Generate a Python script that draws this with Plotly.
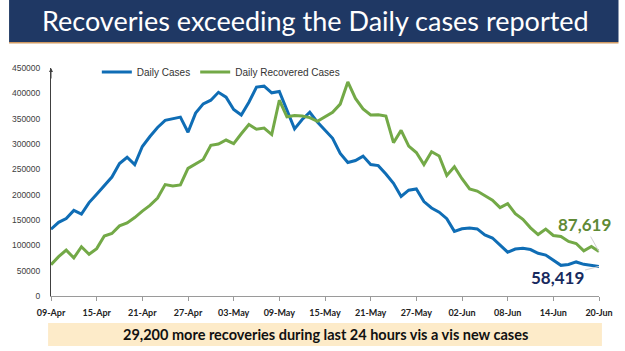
import pandas as pd
import plotly.graph_objects as go

dates = pd.date_range("2021-04-09", "2021-06-20", freq="D")

daily_cases = [
    131968, 145384, 152879, 168912, 161736, 184372, 200739, 217353, 234692, 261500,
    273810, 259170, 295041, 314835, 332730, 346786, 349691, 352991, 323144, 360960,
    379257, 386452, 401993, 392488, 368147, 357229, 382315, 412262, 414188, 401078,
    403738, 366161, 329942, 348421, 362727, 343144, 326098, 311170, 281386, 263533,
    267334, 276110, 259551, 257299, 240842, 222315, 196427, 208921, 211298, 186364,
    173790, 165553, 152734, 127510, 132788, 134154, 132364, 120529, 114460, 100636,
    86498, 92596, 94052, 91702, 84332, 80834, 70421, 60471, 62224, 67208,
    62480, 60753, 58419,
]

daily_recovered = [
    61899, 77567, 90584, 75086, 97168, 82339, 93528, 118302, 123354, 138423,
    144178, 154761, 167457, 178841, 193279, 219838, 217113, 219272, 251827, 261162,
    269507, 297540, 299988, 307865, 300732, 320289, 338439, 329113, 331507, 318609,
    386444, 353818, 356082, 355338, 352181, 344776, 353299, 362437, 378741, 422436,
    389851, 369077, 357295, 357630, 355102, 302544, 326850, 295955, 283135, 259459,
    284601, 276309, 238022, 255287, 231456, 211499, 207071, 197894, 189232, 174399,
    182282, 162664, 151367, 134580, 121311, 132062, 119501, 117525, 107628, 103570,
    88977, 97743, 87619,
]

y_ticks = [0, 50000, 100000, 150000, 200000, 250000, 300000, 350000, 400000, 450000]
x_ticks = list(dates[::6])

title_text = "Recoveries exceeding the Daily cases reported"
footer_text = "29,200 more recoveries during last 24 hours vis a vis new cases"

BLUE = "#0f6db5"
GREEN = "#73a947"

fig = go.Figure()
fig.add_trace(go.Scatter(x=dates, y=daily_cases, mode="lines", name="Daily Cases",
                         line=dict(color=BLUE, width=3)))
fig.add_trace(go.Scatter(x=dates, y=daily_recovered, mode="lines", name="Daily Recovered Cases",
                         line=dict(color=GREEN, width=3)))

# plot area: x 43..605 px, y 68..296 px
L, R, T, B = 43, 20, 68, 55
W, H = 625, 351
pw, ph = W - L - R, H - T - B

def px(xp):
    return (xp - L) / pw

def py(yp):
    return (H - B - yp) / ph

shapes = [
    dict(type="rect", xref="paper", yref="paper", x0=px(0), x1=px(W), y0=py(42), y1=py(0),
         fillcolor="#1f3864", line=dict(width=0), layer="below"),
    dict(type="rect", xref="paper", yref="paper", x0=px(0), x1=px(W), y0=py(43.5), y1=py(42),
         fillcolor="#d09a62", line=dict(width=0), layer="below"),
    dict(type="rect", xref="paper", yref="paper", x0=px(40), x1=px(608), y0=py(346), y1=py(323),
         fillcolor="#fdebc9", line=dict(width=0), layer="below"),
]

annotations = [
    dict(text=title_text, xref="paper", yref="paper", x=px(314), y=py(21), showarrow=False,
         font=dict(family="Lato", size=27, color="white"), xanchor="center", yanchor="middle"),
    dict(text="<b>" + footer_text + "</b>", xref="paper", yref="paper", x=px(324), y=py(334.5),
         showarrow=False, font=dict(family="Lato", size=14.5, color="#111111"),
         xanchor="center", yanchor="middle"),
    dict(text="<b>87,619</b>", x=dates[-1], y=daily_recovered[-1], xref="x", yref="y",
         ax=-15, ay=-27, showarrow=True, arrowhead=0, arrowwidth=1, arrowcolor="#d0d0d0",
         font=dict(family="Lato", size=17, color="#5f8a36")),
    dict(text="<b>58,419</b>", x=dates[-1], y=daily_cases[-1], xref="x", yref="y",
         ax=-42, ay=11, showarrow=True, arrowhead=0, arrowwidth=1, arrowcolor="#d0d0d0",
         font=dict(family="Lato", size=17, color="#172a5e")),
    # arrow tip on y axis
    dict(text="", x=dates[0], y=y_ticks[-1], xref="x", yref="y", ax=0, ay=12,
         showarrow=True, arrowhead=2, arrowsize=0.8, arrowwidth=1, arrowcolor="#404040"),
]

fig.update_layout(
    width=W, height=H,
    margin=dict(l=L, r=R, t=T, b=B, pad=0),
    paper_bgcolor="white", plot_bgcolor="white",
    showlegend=True,
    legend=dict(orientation="h", x=px(90), y=py(72), xanchor="left", yanchor="middle",
                font=dict(family="Liberation Sans", size=10, color="#333333"),
                bgcolor="rgba(0,0,0,0)", tracegroupgap=0),
    shapes=shapes,
    annotations=annotations,
    font=dict(family="Lato"),
)

fig.update_xaxes(
    type="date", range=[dates[0], dates[-1]], tickvals=x_ticks, tickformat="%d-%b",
    showgrid=False, zeroline=False, showline=True, linecolor="#9a9a9a", linewidth=1,
    ticks="outside", ticklen=4, tickcolor="#9a9a9a", ticklabelstandoff=4,
    tickfont=dict(family="Lato", size=9, color="#222222", weight="bold"),
)
fig.update_yaxes(
    range=[0, 450000], tickvals=y_ticks, tickformat="d",
    showgrid=False, zeroline=False, showline=True, linecolor="#404040", linewidth=1,
    ticks="", ticklabelstandoff=8,
    tickfont=dict(family="Liberation Sans", size=8.5, color="#404040"),
)

fig.write_html("out.html")
